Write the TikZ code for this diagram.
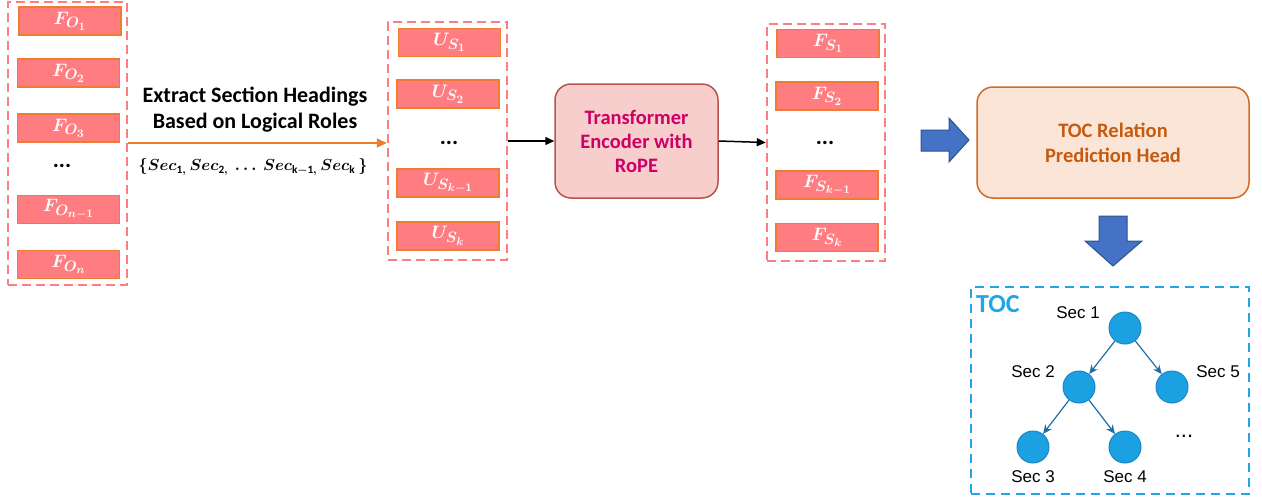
\documentclass[tikz,border=0pt]{standalone}
\usepackage{fix-cm}
\usepackage{amsmath}
\usepackage{fontspec}
\setmainfont{Carlito}
\newfontfamily\arialf{Liberation Sans}
\usetikzlibrary{arrows.meta}
\DeclareMathSizes{18}{18}{15}{11.5}
\definecolor{pinkF}{HTML}{FF7C80}
\definecolor{orangeE}{HTML}{ED7D31}
\definecolor{tfFill}{HTML}{F8CECC}
\definecolor{tfDraw}{HTML}{B85450}
\definecolor{tfText}{HTML}{CC0066}
\definecolor{hdFill}{HTML}{FBE5D6}
\definecolor{hdDraw}{HTML}{D26A22}
\definecolor{hdText}{HTML}{C55A11}
\definecolor{blkFill}{HTML}{4472C4}
\definecolor{blkDraw}{HTML}{2F528F}
\definecolor{tocCyan}{HTML}{1CA7E8}
\definecolor{nodeFill}{HTML}{1BA1E2}
\definecolor{nodeDraw}{HTML}{1B85C6}
\definecolor{edgeC}{HTML}{1F6EA8}
\newcommand{\mlab}[1]{{\boldmath$#1$}}
\begin{document}
\begin{tikzpicture}[x=1pt,y=-1pt,
  feat/.style={draw=orangeE, fill=pinkF, line width=1.5pt, minimum width=102pt,
    minimum height=28pt, inner sep=0pt, text=white, font=\fontsize{18}{20}\selectfont},
  colbox/.style={draw=pinkF, line width=2.5pt, dash pattern=on 9pt off 5pt, inner sep=0pt},
  dotsn/.style={font=\bfseries\fontsize{23}{26}\selectfont},
  boldtxt/.style={font=\bfseries\fontsize{22}{26}\selectfont, align=center},
  conn/.style={line width=1.5pt, -{Triangle[length=9pt,width=8pt]}},
  blockarrow/.style={fill=blkFill, draw=blkDraw, line width=1pt, line join=miter},
  treenode/.style={circle, fill=nodeFill, draw=nodeDraw, line width=1pt, minimum size=32pt, inner sep=0pt},
  treeedge/.style={draw=edgeC, line width=1.2pt, -{Stealth[length=9pt,width=8pt]}},
  seclab/.style={font=\arialf\fontsize{17}{20}\selectfont}
]
\useasboundingbox (0,0) rectangle (1262,501);

% left column
\node[colbox, minimum width=119pt, minimum height=283pt] (colO) at (67.5,143.5) {};
\node[feat] (fo1) at (70,21) {\mlab{F_{O_1}}};
\node[feat] (fo2) at (68.5,73) {\mlab{F_{O_2}}};
\node[feat] (fo3) at (68.5,128) {\mlab{F_{O_3}}};
\node[dotsn] (fod) at (62,166) {...};
\node[feat] (fon1) at (68.5,209.5) {\mlab{F_{O_{n-1}}}};
\node[feat] (fon) at (68.5,264.5) {\mlab{F_{O_n}}};

% U column
\node[colbox, minimum width=119pt, minimum height=238pt] (colU) at (447.5,141) {};
\node[feat] (us1) at (449.5,42.5) {\mlab{U_{S_1}}};
\node[feat] (us2) at (448,94) {\mlab{U_{S_2}}};
\node[dotsn] (usd) at (449,143) {...};
\node[feat] (usk1) at (448,183) {\mlab{U_{S_{k-1}}}};
\node[feat] (usk) at (448,236) {\mlab{U_{S_k}}};

% extraction arrow and text
\draw[draw=orangeE, line width=2pt, -{Triangle[length=10pt,width=9pt]}] (colO.east |- 0,143) -- (colU.west |- 0,143);
\node[boldtxt] (extxt) at (255,110) {Extract Section Headings\\Based on Logical Roles};
\node[font=\fontsize{16}{19}\selectfont] (secs) at (253,167)
  {\mlab{\{Sec_{\mathrm{1},}\,Sec_{\mathrm{2},}\ \ldots\ Sec_{\mathrm{k-1},}\,Sec_{\mathrm{k}}\,\}}};

% transformer
\node[draw=tfDraw, fill=tfFill, line width=1.5pt, rounded corners=16pt,
  minimum width=163pt, minimum height=114pt, text=tfText, boldtxt,
  font=\bfseries\fontsize{20.5}{24}\selectfont] (tf) at (636.5,141)
  {Transformer\\Encoder with\\RoPE};

% F column
\node[colbox, minimum width=118pt, minimum height=237pt] (colF) at (826,142.5) {};
\node[feat] (fs1) at (828,43.5) {\mlab{F_{S_1}}};
\node[feat] (fs2) at (827,96) {\mlab{F_{S_2}}};
\node[dotsn] (fsd) at (825,143) {...};
\node[feat] (fsk1) at (827,185) {\mlab{F_{S_{k-1}}}};
\node[feat] (fsk) at (827,237.5) {\mlab{F_{S_k}}};

\draw[conn] (colU.east) -- (tf.west);
\draw[conn] (tf.east) -- (colF.west);

% block arrows
\draw[blockarrow] (921,130) -- (949,130) -- (949,118) -- (969,140) -- (949,162) -- (949,151) -- (921,151) -- cycle;
\node[draw=hdDraw, fill=hdFill, line width=1.5pt, rounded corners=16pt,
  minimum width=272pt, minimum height=111pt, text=hdText, boldtxt,
  font=\bfseries\fontsize{20.5}{25}\selectfont] (head) at (1113,142.5)
  {TOC Relation\\Prediction Head};
\draw[blockarrow] (1099,216) -- (1127,216) -- (1127,241) -- (1142,241) -- (1113,266) -- (1085,241) -- (1099,241) -- cycle;

% TOC frame
\node[draw=tocCyan, line width=2.5pt, dash pattern=on 9pt off 6pt, inner sep=0pt,
  minimum width=278pt, minimum height=207pt] (tocbox) at (1110,390.5) {};
\node[anchor=west, text=tocCyan, font=\bfseries\fontsize{26}{30}\selectfont, inner sep=0pt] (toclab) at (976,304) {TOC};

\node[treenode] (s1) at (1125,328) {};
\node[treenode] (s2) at (1079,387) {};
\node[treenode] (s5) at (1172,387) {};
\node[treenode] (s3) at (1033,447) {};
\node[treenode] (s4) at (1125,447) {};
\draw[treeedge] (s1) -- (s2);
\draw[treeedge] (s1) -- (s5);
\draw[treeedge] (s2) -- (s3);
\draw[treeedge] (s2) -- (s4);

\node[seclab] (l1) at (1078,313) {Sec 1};
\node[seclab] (l2) at (1033,372) {Sec 2};
\node[seclab] (l5) at (1218,372) {Sec 5};
\node[seclab] (l3) at (1033,477) {Sec 3};
\node[seclab] (l4) at (1125,477) {Sec 4};
\node[font=\arialf\fontsize{22}{24}\selectfont] (tdots) at (1184,436) {...};
\end{tikzpicture}
\end{document}
